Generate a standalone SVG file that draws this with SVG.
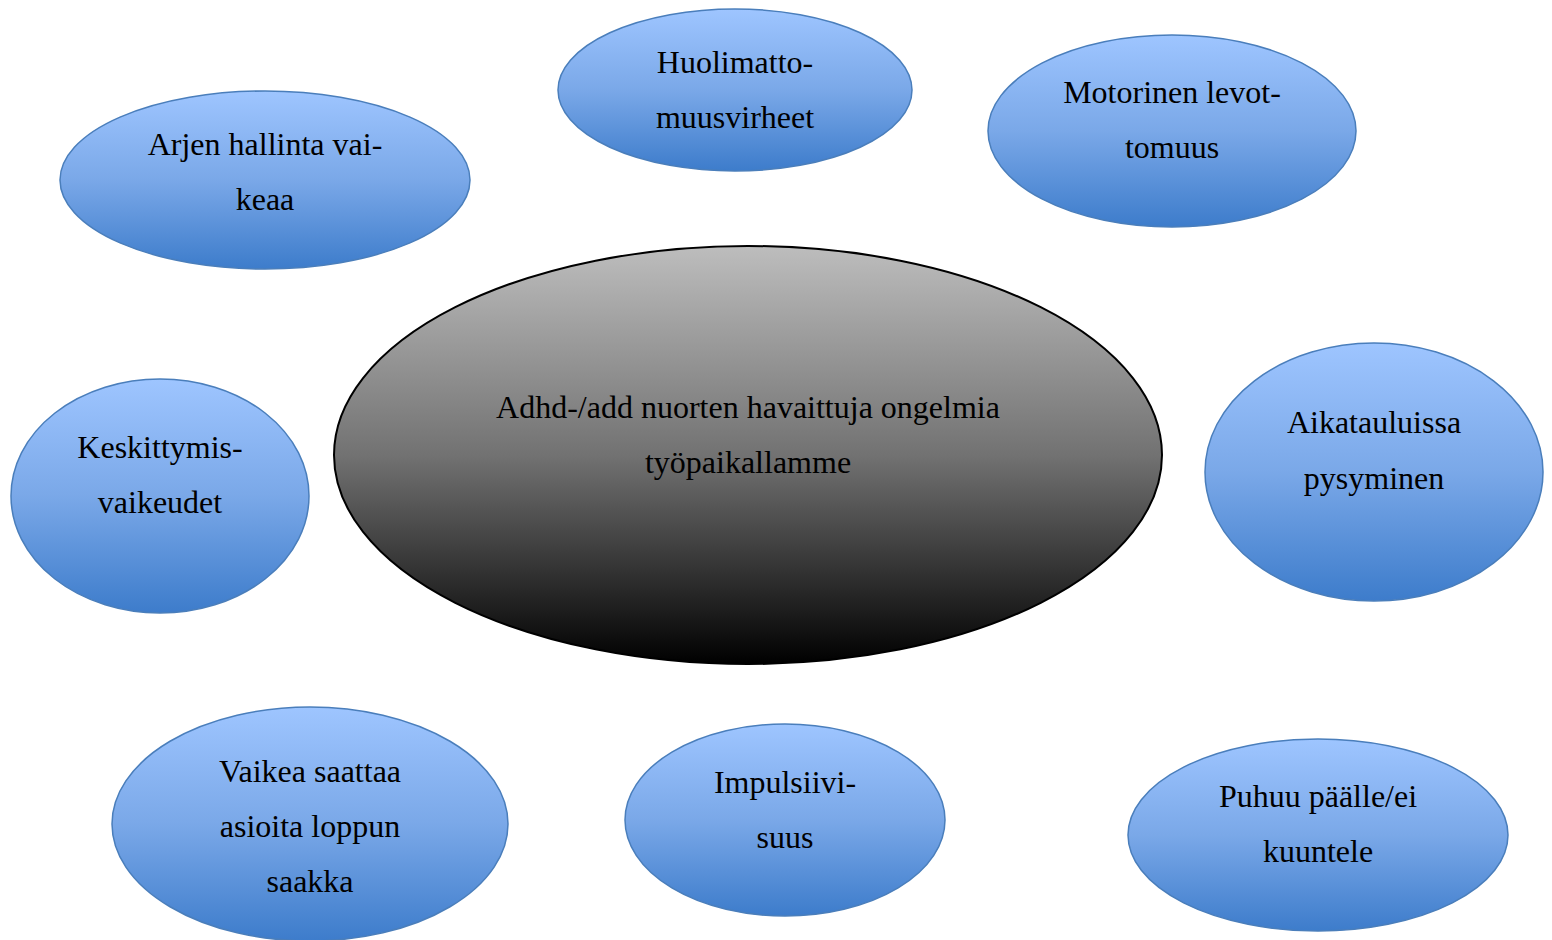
<svg xmlns="http://www.w3.org/2000/svg" width="1552" height="940" viewBox="0 0 1552 940">
<defs>
<linearGradient id="blue" x1="0" y1="0" x2="0" y2="1">
<stop offset="0" stop-color="#9ec5ff"/>
<stop offset="0.5" stop-color="#7aa8e8"/>
<stop offset="1" stop-color="#3d7ccb"/>
</linearGradient>
<linearGradient id="gray" x1="0" y1="0" x2="0" y2="1">
<stop offset="0" stop-color="#bdbdbd"/>
<stop offset="0.5" stop-color="#727272"/>
<stop offset="1" stop-color="#000000"/>
</linearGradient>
</defs>
<style>
.b{fill:url(#blue);stroke:#4a7ebb;stroke-width:1.5}
.c{fill:url(#gray);stroke:#000;stroke-width:2}
text{font-family:"Liberation Serif","Times New Roman",serif;font-size:32px;fill:#000;text-anchor:middle}
</style>
<rect width="1552" height="940" fill="#fff"/>
<g id="connectors"/>
<g id="center">
<ellipse class="c" cx="748" cy="455" rx="414" ry="209"/>
<text x="748" y="418">Adhd-/add nuorten havaittuja ongelmia</text>
<text x="748" y="473">työpaikallamme</text>
</g>
<g id="huolimatto">
<ellipse class="b" cx="735" cy="90" rx="177" ry="81"/>
<text x="735" y="73">Huolimatto-</text>
<text x="735" y="128">muusvirheet</text>
</g>
<g id="motorinen">
<ellipse class="b" cx="1172" cy="131" rx="184" ry="96"/>
<text x="1172" y="103">Motorinen levot-</text>
<text x="1172" y="158">tomuus</text>
</g>
<g id="arjen">
<ellipse class="b" cx="265" cy="180" rx="205" ry="89"/>
<text x="265" y="155">Arjen hallinta vai-</text>
<text x="265" y="210">keaa</text>
</g>
<g id="keskittymis">
<ellipse class="b" cx="160" cy="496" rx="149" ry="117"/>
<text x="160" y="458">Keskittymis-</text>
<text x="160" y="513">vaikeudet</text>
</g>
<g id="aikataulu">
<ellipse class="b" cx="1374" cy="472" rx="169" ry="129"/>
<text x="1374" y="433">Aikatauluissa</text>
<text x="1374" y="489">pysyminen</text>
</g>
<g id="vaikea">
<ellipse class="b" cx="310" cy="824" rx="198" ry="117"/>
<text x="310" y="782">Vaikea saattaa</text>
<text x="310" y="837">asioita loppun</text>
<text x="310" y="892">saakka</text>
</g>
<g id="impulsiivi">
<ellipse class="b" cx="785" cy="820" rx="160" ry="96"/>
<text x="785" y="793">Impulsiivi-</text>
<text x="785" y="848">suus</text>
</g>
<g id="puhuu">
<ellipse class="b" cx="1318" cy="835" rx="190" ry="96"/>
<text x="1318" y="807">Puhuu päälle/ei</text>
<text x="1318" y="862">kuuntele</text>
</g>
</svg>
